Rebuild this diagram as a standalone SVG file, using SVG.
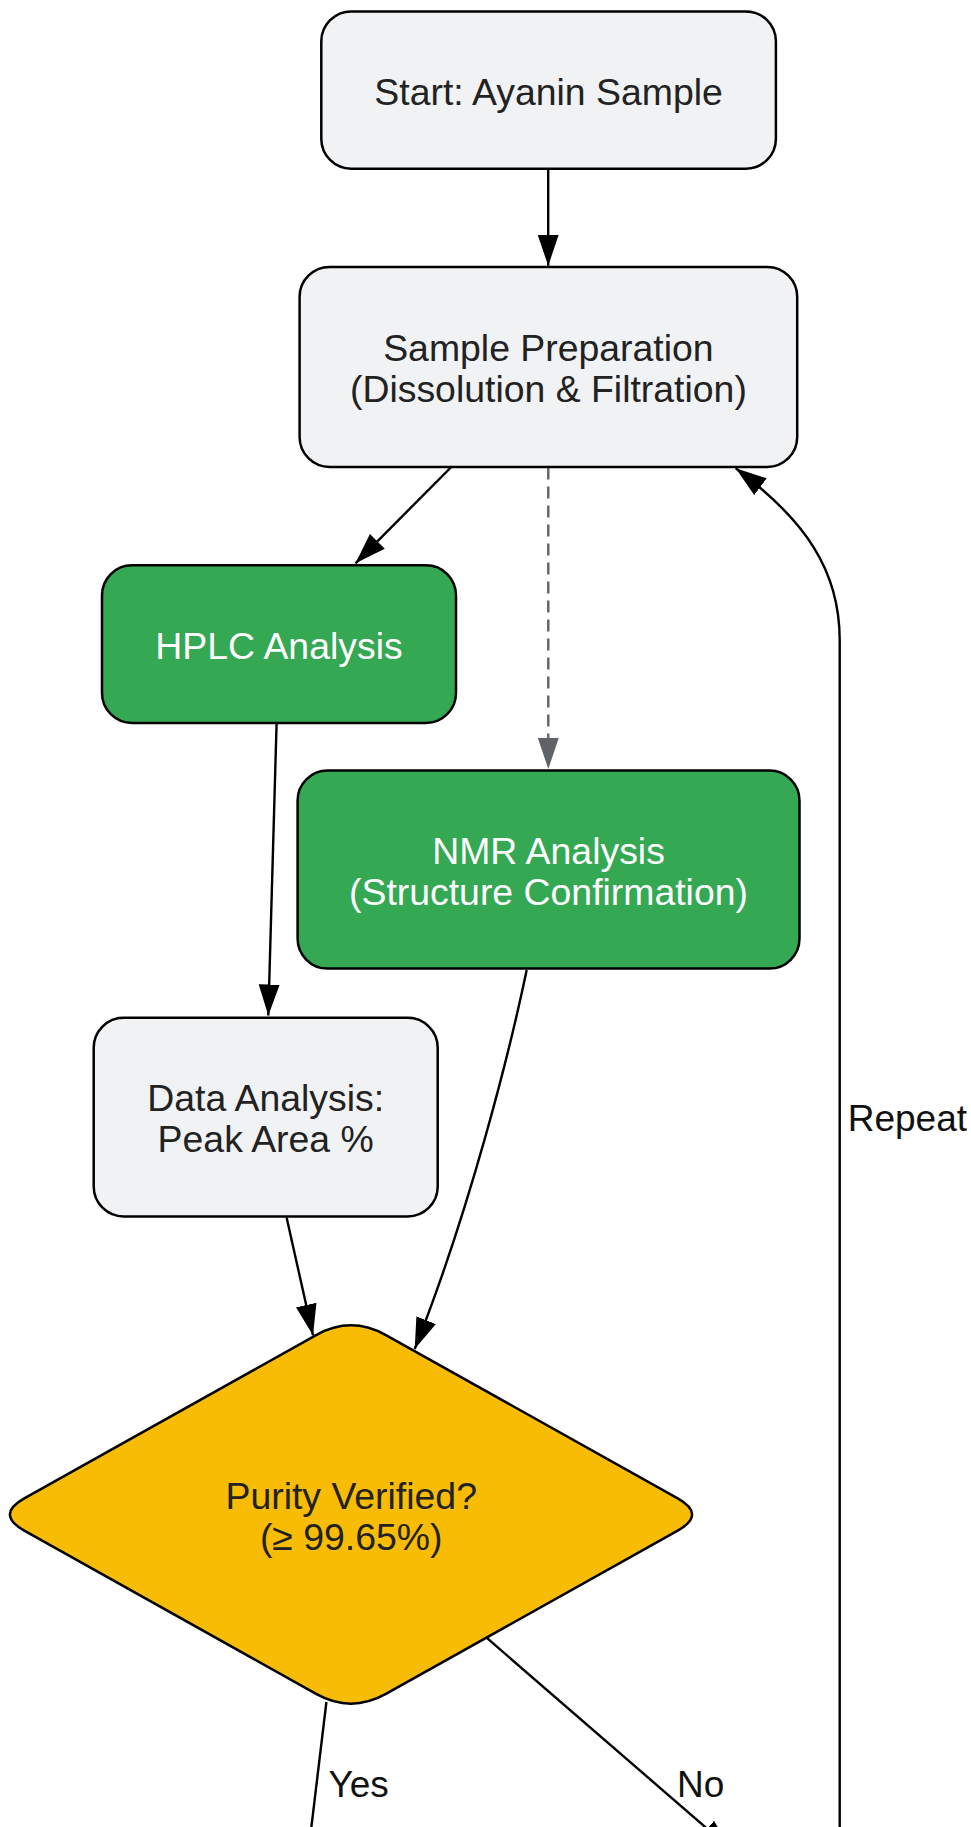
<svg xmlns="http://www.w3.org/2000/svg" width="971" height="1827" viewBox="0 0 971 1827">
<style>
.gray{fill:#f1f2f4;stroke:#000;stroke-width:2.5}
.green{fill:#34a853;stroke:#000;stroke-width:2.5}
.yellow{fill:#f9bc05;stroke:#000;stroke-width:2.5}
.t{font-family:"Liberation Sans",Arial,sans-serif;font-size:37.4px;text-anchor:middle;fill:#222}
.tw{fill:#fff}
.lbl{font-family:"Liberation Sans",Arial,sans-serif;font-size:37px;fill:#111}
.e{fill:none;stroke:#000;stroke-width:2.4}
.d{fill:none;stroke:#5f6368;stroke-width:2.4;stroke-dasharray:12 7}
</style>
<defs>
<marker id="ah" markerUnits="userSpaceOnUse" markerWidth="32" markerHeight="22" refX="31" refY="10.5" orient="auto" viewBox="0 0 32 22">
<path d="M0,0 L31,10.5 L0,21 Z" fill="#000"/>
</marker>
<marker id="ahg" markerUnits="userSpaceOnUse" markerWidth="32" markerHeight="22" refX="31" refY="10.5" orient="auto" viewBox="0 0 32 22">
<path d="M0,0 L31,10.5 L0,21 Z" fill="#5f6368"/>
</marker>
</defs>
<g id="connectors">
<path class="e" d="M548.2,168.7 L548.2,265.8" marker-end="url(#ah)"/>
<path class="e" d="M450.8,467.5 L355.5,563.3" marker-end="url(#ah)"/>
<path class="d" d="M548.3,467.5 L548.3,768.9" marker-end="url(#ahg)"/>
<path class="e" d="M276.6,723 L268.3,1015.5" marker-end="url(#ah)"/>
<path class="e" d="M526.7,970 C510,1050 470,1210 414.7,1349" marker-end="url(#ah)"/>
<path class="e" d="M286.6,1217.6 L313,1335.3" marker-end="url(#ah)"/>
<path class="e" d="M326.4,1702 L302,1905" marker-end="url(#ah)"/>
<path class="e" d="M487.1,1638.2 L730.6,1849" marker-end="url(#ah)"/>
<path class="e" d="M839.7,1905 L839.7,640 C839.7,570 805,520 735.7,468.2" marker-end="url(#ah)"/>
<text class="lbl" x="328.4" y="1796.6">Yes</text>
<text class="lbl" x="677" y="1796.6">No</text>
<text class="lbl" x="847.7" y="1131">Repeat</text>
</g>
<g id="start">
<rect class="gray" x="321.3" y="11.4" width="454.6" height="157.3" rx="30"/>
<text class="t" x="548.6" y="105">Start: Ayanin Sample</text>
</g>
<g id="prep">
<rect class="gray" x="299.6" y="266.9" width="497.6" height="200.1" rx="30"/>
<text class="t" x="548.4" y="361">Sample Preparation</text>
<text class="t" x="548.4" y="402.3">(Dissolution &amp; Filtration)</text>
</g>
<g id="hplc">
<rect class="green" x="102" y="565.3" width="354" height="157.7" rx="30"/>
<text class="t tw" x="279" y="659">HPLC Analysis</text>
</g>
<g id="nmr">
<rect class="green" x="297.6" y="770.6" width="501.9" height="198" rx="30"/>
<text class="t tw" x="548.5" y="863.5">NMR Analysis</text>
<text class="t tw" x="548.5" y="905">(Structure Confirmation)</text>
</g>
<g id="data">
<rect class="gray" x="93.7" y="1017.8" width="344" height="198.7" rx="30"/>
<text class="t" x="265.7" y="1110.5">Data Analysis:</text>
<text class="t" x="265.7" y="1151.8">Peak Area %</text>
</g>
<g id="decision">
<path class="yellow" d="M385.9,1335.1 L677.7,1498.4 Q706.5,1514.5 677.7,1530.6 L385.9,1693.9 Q351,1713.4 316.1,1693.9 L24.3,1530.6 Q-4.5,1514.5 24.3,1498.4 L316.1,1335.1 Q351,1315.6 385.9,1335.1 Z"/>
<text class="t" x="351.2" y="1509">Purity Verified?</text>
<text class="t" x="351.2" y="1550.4">(≥ 99.65%)</text>
</g>
</svg>
